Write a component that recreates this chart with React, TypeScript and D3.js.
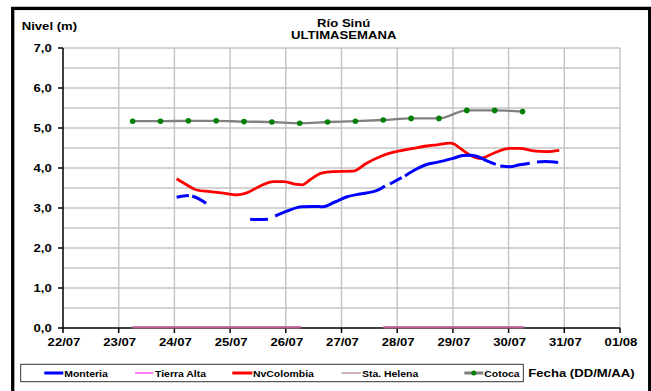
import React from "react";
import * as d3 from "d3";

// x values are days since 22/07 00:00
const dateLabels = ["22/07", "23/07", "24/07", "25/07", "26/07", "27/07", "28/07", "29/07", "30/07", "31/07", "01/08"];
const yTickLabels = ["0,0", "1,0", "2,0", "3,0", "4,0", "5,0", "6,0", "7,0"];

const monteria: ([number, number] | null)[] = [
  [2.04, 3.27], [2.16, 3.3], [2.26, 3.31], null,
  [2.32, 3.3], [2.44, 3.23], [2.57, 3.12], null,
  [3.36, 2.72], [3.54, 2.71], [3.68, 2.72], null,
  [3.81, 2.8], [4.02, 2.92], [4.2, 3.01], [4.31, 3.03], [4.49, 3.04], [4.67, 3.03], [4.88, 3.15],
  [5.1, 3.28], [5.33, 3.35], [5.57, 3.41], [5.67, 3.46], [5.78, 3.55], null,
  [5.87, 3.6], [6.08, 3.76], null,
  [6.14, 3.8], [6.29, 3.93], [6.56, 4.1], [6.71, 4.14], [7.0, 4.24], [7.18, 4.31], [7.31, 4.32],
  [7.41, 4.3], [7.61, 4.18], [7.77, 4.09], null,
  [7.85, 4.05], [8.02, 4.03], [8.2, 4.08], [8.38, 4.12], null,
  [8.51, 4.15], [8.65, 4.16], [8.89, 4.14],
];

const nvColombia: [number, number][] = [
  [2.04, 3.73], [2.22, 3.58], [2.4, 3.45], [2.64, 3.41], [2.88, 3.37], [3.12, 3.33], [3.3, 3.38],
  [3.54, 3.55], [3.78, 3.66], [3.96, 3.66], [4.2, 3.59], [4.3, 3.58], [4.43, 3.7], [4.64, 3.87],
  [4.85, 3.91], [5.21, 3.92], [5.45, 4.12], [5.69, 4.28], [5.87, 4.37], [6.05, 4.43], [6.29, 4.49],
  [6.53, 4.55], [6.71, 4.58], [6.95, 4.62], [7.02, 4.6], [7.13, 4.49], [7.31, 4.32], [7.49, 4.24],
  [7.73, 4.37], [8.02, 4.49], [8.2, 4.49], [8.44, 4.43], [8.68, 4.41], [8.91, 4.44],
];

const tierraAlta: ([number, number] | null)[] = [
  [1.25, 0.02], [4.27, 0.02], null, [5.75, 0.02], [8.27, 0.02],
];
const staHelena: ([number, number] | null)[] = [
  [1.25, 0.01], [4.27, 0.01], null, [5.75, 0.01], [8.27, 0.01],
];

const cotocaDays = [1.25, 1.75, 2.25, 2.75, 3.25, 3.75, 4.25, 4.75, 5.25, 5.75, 6.25, 6.75, 7.25, 7.75, 8.25];
const cotocaValues = [5.17, 5.17, 5.18, 5.18, 5.16, 5.15, 5.12, 5.15, 5.17, 5.2, 5.24, 5.24, 5.44, 5.44, 5.41];

const FONT = "'Liberation Sans', Arial, sans-serif";

function T({ x, y, anchor = "start", size = 10.5, sx = 1.25, children }: any) {
  return (
    <text
      transform={`translate(${x},${y}) scale(${sx},1)`}
      textAnchor={anchor}
      fontFamily={FONT}
      fontWeight="bold"
      fontSize={size}
      fill="#000"
    >
      {children}
    </text>
  );
}

export default function App() {
  const x = d3.scaleLinear().domain([0, 10]).range([63, 620]);
  const y = d3.scaleLinear().domain([0, 7]).range([328, 48]);

  const line = d3
    .line<[number, number] | null>()
    .defined((d) => d !== null)
    .x((d) => x((d as [number, number])[0]))
    .y((d) => y((d as [number, number])[1]))
    .curve(d3.curveMonotoneX);

  const cotoca: [number, number][] = cotocaDays.map((d, i) => [d, cotocaValues[i]]);

  const hGrid = d3.range(1, 15).map((i) => i * 0.5);
  const vGrid = d3.range(1, 11);

  const legendY = 373;
  const legendItems = [
    { name: "Monteria", x1: 44.3, x2: 63.3, tx: 64.3, color: "#0000ff", w: 3 },
    { name: "Tierra Alta", x1: 135, x2: 153.3, tx: 155, color: "#ff00ff", w: 1 },
    { name: "NvColombia", x1: 232.3, x2: 252.3, tx: 253, color: "#ff0000", w: 3 },
    { name: "Sta. Helena", x1: 341.7, x2: 360.7, tx: 362, color: "#996666", w: 1 },
    { name: "Cotoca", x1: 464.3, x2: 483.3, tx: 484.3, color: "#808080", w: 3 },
  ];

  return (
    <svg
      width={651}
      height={391}
      style={{ position: "absolute", left: 0, top: 0, background: "#fff" }}
    >
      <rect x={0} y={0} width={651} height={391} fill="#fff" />
      <rect x={12.7} y={8.4} width={637} height={400} fill="none" stroke="#000" strokeWidth={3.3} />

      {/* grid */}
      {hGrid.map((v) => (
        <line key={"h" + v} x1={x(0)} x2={x(10)} y1={y(v)} y2={y(v)} stroke="#c4c4c4" strokeWidth={1.5} />
      ))}
      {vGrid.map((d) => (
        <line key={"v" + d} x1={x(d)} x2={x(d)} y1={y(7)} y2={y(0)} stroke="#c4c4c4" strokeWidth={1.5} />
      ))}

      {/* axes */}
      <line x1={x(0)} x2={x(0)} y1={y(7)} y2={y(0)} stroke="#000" strokeWidth={1.5} />
      <line x1={x(0)} x2={x(10)} y1={y(0)} y2={y(0)} stroke="#000" strokeWidth={1.5} />
      {d3.range(0, 8).map((v) => (
        <line key={"yt" + v} x1={x(0) - 5} x2={x(0)} y1={y(v)} y2={y(v)} stroke="#000" strokeWidth={1.5} />
      ))}
      {d3.range(0, 11).map((d) => (
        <line key={"xt" + d} x1={x(d)} x2={x(d)} y1={y(0)} y2={y(0) + 5} stroke="#000" strokeWidth={1.5} />
      ))}

      {/* tick labels */}
      {yTickLabels.map((t, i) => (
        <T key={t} x={51.7} y={y(i) + 4.3} anchor="end">{t}</T>
      ))}
      {dateLabels.map((t, i) => (
        <T key={t} x={x(i) + 1} y={345.5} anchor="middle">{t}</T>
      ))}

      {/* series */}
      <path d={line(staHelena) || ""} fill="none" stroke="#996666" strokeWidth={2} />
      <path d={line(tierraAlta) || ""} fill="none" stroke="#c0609a" strokeWidth={2} />
      <path d={line(cotoca) || ""} fill="none" stroke="#808080" strokeWidth={2.3} />
      {cotoca.map((p, i) => (
        <circle key={"c" + i} cx={x(p[0])} cy={y(p[1])} r={2.8} fill="#008000" />
      ))}
      <path d={line(nvColombia) || ""} fill="none" stroke="#ff0000" strokeWidth={2.8} strokeLinejoin="round" />
      <path d={line(monteria) || ""} fill="none" stroke="#0000ff" strokeWidth={3} strokeLinejoin="round" />

      {/* titles */}
      <T x={21.7} y={30}>Nivel (m)</T>
      <T x={343.7} y={26.7} anchor="middle">Río Sinú</T>
      <T x={343.7} y={39} anchor="middle">ULTIMASEMANA</T>

      {/* legend */}
      <rect x={20.7} y={364.3} width={502.6} height={17.4} fill="#fff" stroke="#333" strokeWidth={1} />
      {legendItems.map((it) => (
        <g key={it.name}>
          <line x1={it.x1} x2={it.x2} y1={legendY} y2={legendY} stroke={it.color} strokeWidth={it.w} />
          {it.name === "Cotoca" && <circle cx={(it.x1 + it.x2) / 2} cy={legendY} r={2.5} fill="#008000" />}
          <T x={it.tx} y={376.6} size={9.5} sx={1.1}>{it.name}</T>
        </g>
      ))}
      <T x={528.3} y={377}>Fecha (DD/M/AA)</T>
    </svg>
  );
}
